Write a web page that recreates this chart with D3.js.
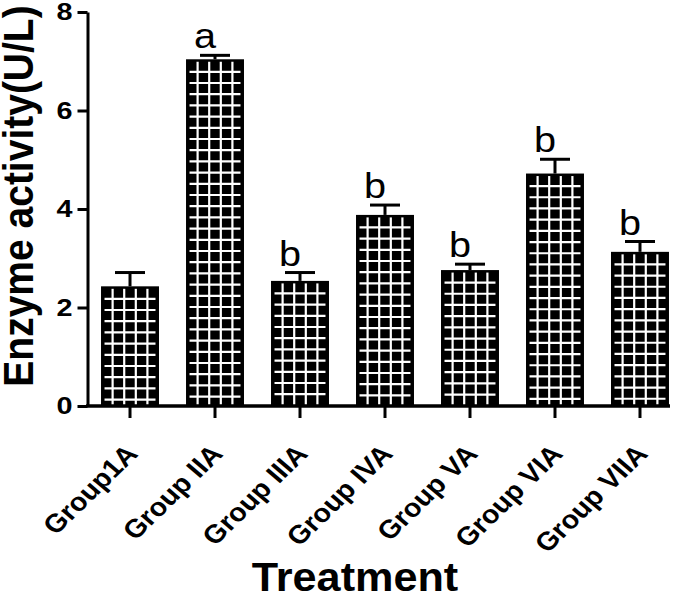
<!DOCTYPE html>
<html>
<head>
<meta charset="utf-8">
<script src="https://cdn.jsdelivr.net/npm/d3@7/dist/d3.min.js"></script>
<style>
  html, body { margin: 0; padding: 0; background: #fff; }
  svg { display: block; }
  text { font-family: "Liberation Sans", Arial, Helvetica, sans-serif; }
</style>
</head>
<body>
<svg id="chart" width="685" height="601"></svg>
<script>
const categories = ["Group1A", "Group IIA", "Group IIIA", "Group IVA", "Group VA", "Group VIA", "Group VIIA"];
const means = [2.43, 7.04, 2.54, 3.88, 2.76, 4.72, 3.13];
const errors = [0.28, 0.08, 0.17, 0.20, 0.12, 0.29, 0.21];
const letters = ["", "a", "b", "b", "b", "b", "b"];
const yTicks = [0, 2, 4, 6, 8];
const yTitle = "Enzyme activity(U/L)";
const xTitle = "Treatment";

const SX = 1.1; // horizontal stretch of all text in the reference
const svg = d3.select("#chart");
const W = 685, H = 601;
svg.append("rect").attr("width", W).attr("height", H).attr("fill", "#fff");

const x = d3.scaleBand().domain(categories).range([87, 683]).paddingInner(0.318).paddingOuter(0.165);
const y = d3.scaleLinear().domain([0, 8]).range([406, 12]);

// bars
const bw = x.bandwidth();
const barG = svg.append("g");
categories.forEach((c, i) => {
  const bx = x(c), by = y(means[i]), bh = y(0) - by;
  const g = barG.append("g");
  g.append("rect").attr("x", bx).attr("y", by).attr("width", bw).attr("height", bh).attr("fill", "#000");
  for (let ly = by + 12.5; ly < y(0) - 3; ly += 11.2) {
    g.append("line").attr("x1", bx + 3.5).attr("x2", bx + bw - 3.5).attr("y1", ly).attr("y2", ly)
      .attr("stroke", "#fff").attr("stroke-width", 2.2);
  }
  for (let k = 0; k < 4; k++) {
    const lx = bx + bw / 2 + (k - 1.5) * 11.6;
    g.append("line").attr("x1", lx).attr("x2", lx).attr("y1", by + 2.5).attr("y2", y(0))
      .attr("stroke", "#fff").attr("stroke-width", 2.2);
  }
  const cx = bx + bw / 2, ey = y(means[i] + errors[i]);
  g.append("line").attr("x1", cx).attr("x2", cx).attr("y1", by).attr("y2", ey).attr("stroke", "#000").attr("stroke-width", 3);
  g.append("line").attr("x1", cx - 15).attr("x2", cx + 15).attr("y1", ey).attr("y2", ey).attr("stroke", "#000").attr("stroke-width", 3);
  if (letters[i]) {
    g.append("text").attr("transform", `translate(${cx - 10},${ey - 7}) scale(${SX},1)`)
      .attr("text-anchor", "middle").attr("font-size", 36).attr("fill", "#000").text(letters[i]);
  }
});

// y axis
const yAxis = svg.append("g").attr("transform", "translate(87.5,0)")
  .call(d3.axisLeft(y).tickValues(yTicks).tickSize(10).tickSizeOuter(0).tickPadding(5));
yAxis.attr("font-size", null).attr("font-family", null);
yAxis.select(".domain").attr("stroke-width", 3);
yAxis.selectAll(".tick line").attr("stroke-width", 3);
yAxis.selectAll(".tick text").style("font-size", "24px").style("font-weight", "bold").attr("fill", "#000")
  .attr("x", 0).attr("transform", "translate(-15,0) scale(1.2,1)");

// x axis
const xAxis = svg.append("g").attr("transform", "translate(0,406)")
  .call(d3.axisBottom(x).tickSize(12).tickSizeOuter(0).tickPadding(4));
xAxis.attr("font-size", null).attr("font-family", null);
xAxis.select(".domain").remove();
xAxis.selectAll(".tick line").attr("stroke-width", 3);
xAxis.append("line").attr("x1", 86).attr("x2", 670).attr("y1", 0).attr("y2", 0).attr("stroke", "#000").attr("stroke-width", 3.5);
xAxis.selectAll(".tick text")
  .style("font-size", "26px").style("font-weight", "bold").attr("fill", "#000")
  .attr("text-anchor", "end")
  .attr("transform", `translate(9,49) scale(${SX},1) rotate(-47)`)
  .attr("y", 0).attr("dy", "0");

// titles
svg.append("text").attr("transform", `translate(33,196) scale(${SX},1) rotate(-90)`).attr("text-anchor", "middle")
  .attr("font-size", 39).attr("font-weight", "bold").attr("fill", "#000").text(yTitle);
svg.append("text").attr("transform", `translate(355,591) scale(1.08,1)`).attr("text-anchor", "middle")
  .attr("font-size", 40).attr("font-weight", "bold").attr("fill", "#000").text(xTitle);
</script>
</body>
</html>
